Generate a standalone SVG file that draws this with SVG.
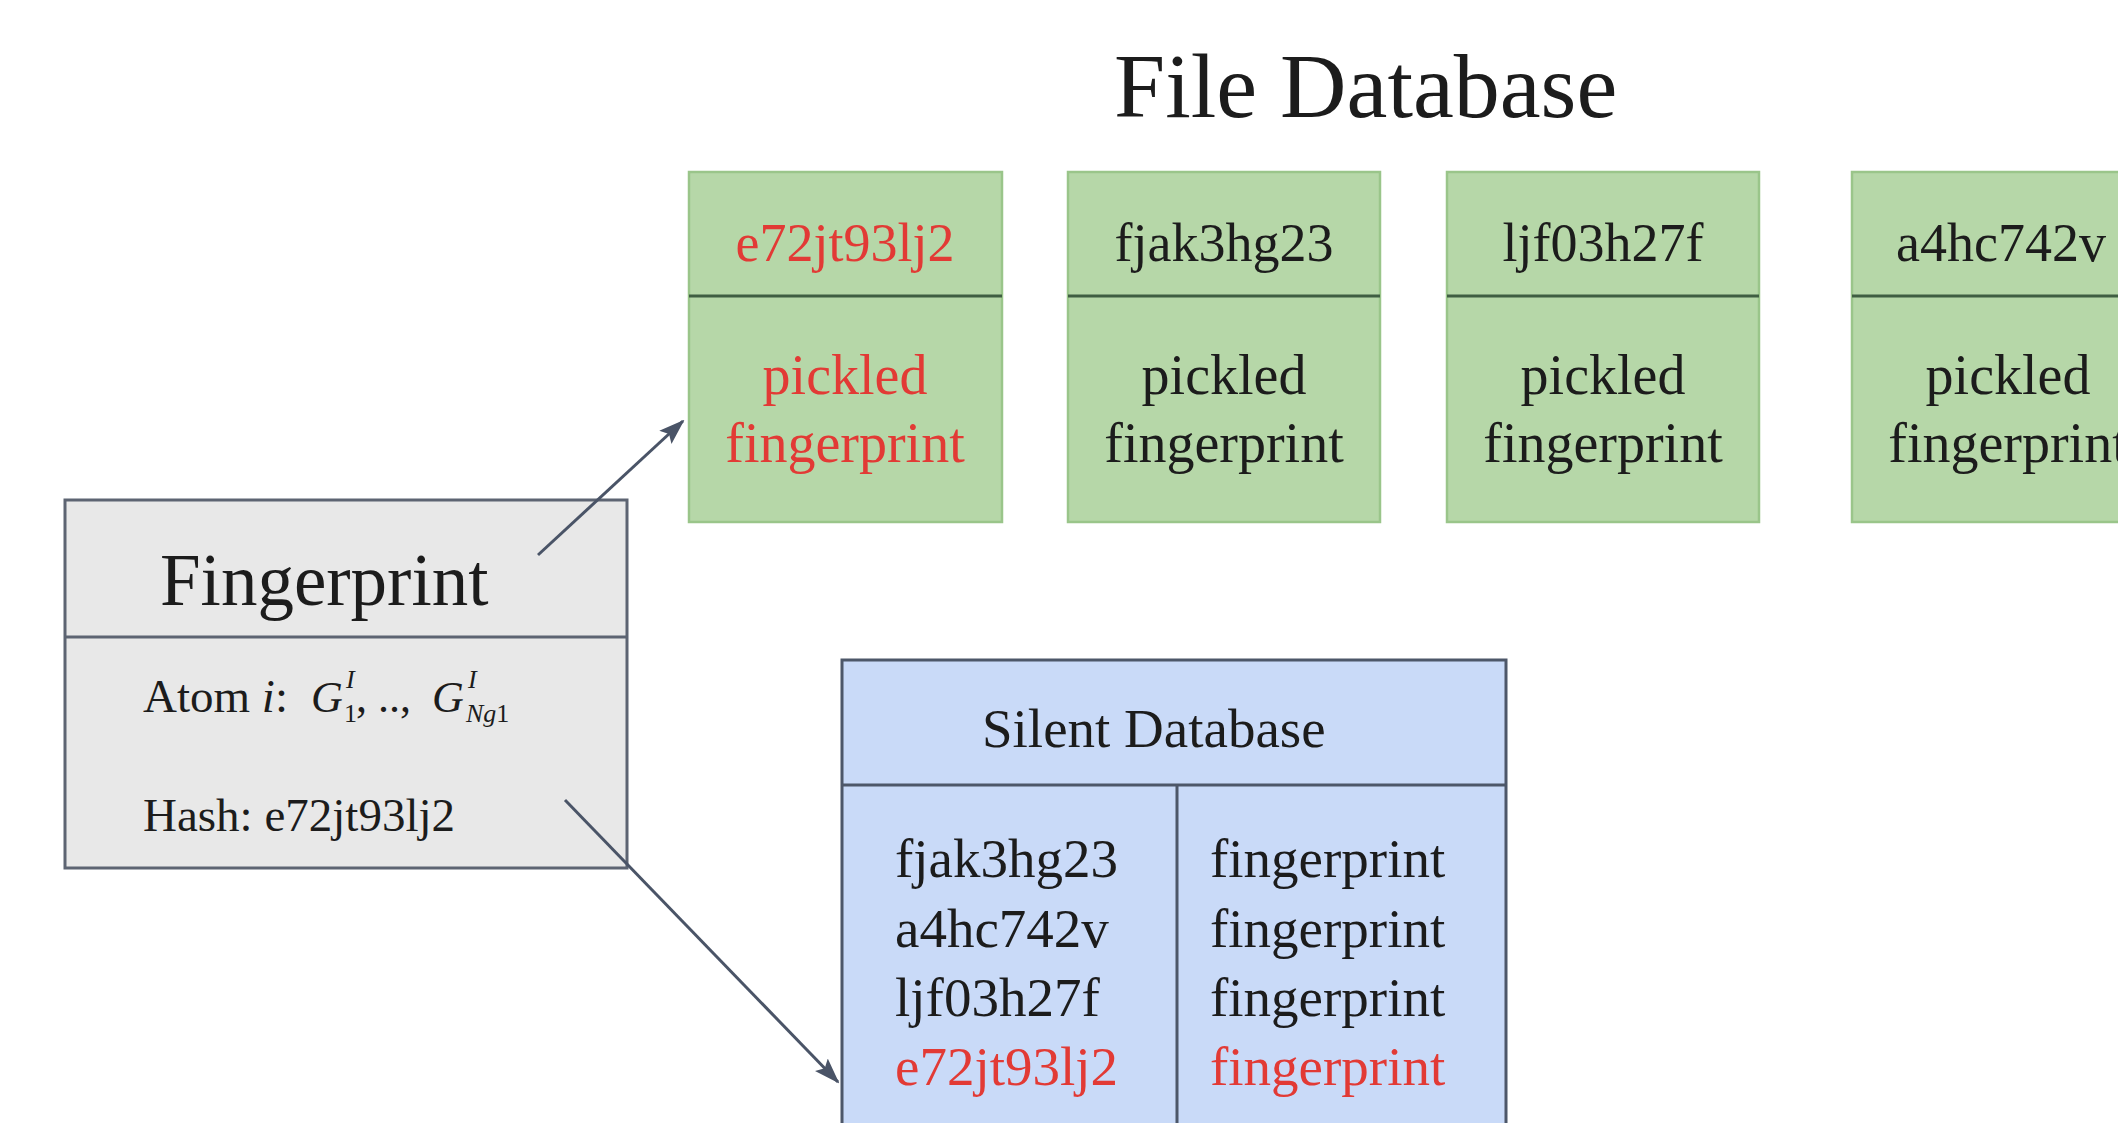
<svg xmlns="http://www.w3.org/2000/svg" width="2118" height="1123" viewBox="0 0 2118 1123">
<defs>
<style>
text{font-family:"Liberation Serif","DejaVu Serif",serif;fill:#1c1c1c}
.red{fill:#e23a35}
.gbox{fill:#b6d7a8;stroke:#9ac58a;stroke-width:2.5}
.gdiv{stroke:#3f5e42;stroke-width:3}
.hdr{font-size:54px;text-anchor:middle}
.body{font-size:56px;text-anchor:middle}
.row{font-size:55px}
.conn{stroke:#4a5467;stroke-width:3;fill:none}
.it{font-style:italic}
</style>
<marker id="ah" viewBox="0 0 26 18" refX="24" refY="9" markerWidth="26" markerHeight="18" markerUnits="userSpaceOnUse" orient="auto">
<path d="M0,0 L26,9 L0,18 L5,9 z" fill="#4a5467"/>
</marker>
</defs>
<rect width="2118" height="1123" fill="#ffffff"/>

<g id="title">
<text x="1114" y="117" font-size="92">File Database</text>
</g>

<g id="file-e72jt93lj2">
<rect class="gbox" x="689" y="172" width="313" height="350"/>
<line class="gdiv" x1="689" y1="296" x2="1002" y2="296"/>
<text class="hdr red" x="845" y="261">e72jt93lj2</text>
<text class="body red" x="845" y="394">pickled</text>
<text class="body red" x="845" y="462">fingerprint</text>
</g>

<g id="file-fjak3hg23">
<rect class="gbox" x="1068" y="172" width="312" height="350"/>
<line class="gdiv" x1="1068" y1="296" x2="1380" y2="296"/>
<text class="hdr" x="1224" y="261">fjak3hg23</text>
<text class="body" x="1224" y="394">pickled</text>
<text class="body" x="1224" y="462">fingerprint</text>
</g>

<g id="file-ljf03h27f">
<rect class="gbox" x="1447" y="172" width="312" height="350"/>
<line class="gdiv" x1="1447" y1="296" x2="1759" y2="296"/>
<text class="hdr" x="1603" y="261">ljf03h27f</text>
<text class="body" x="1603" y="394">pickled</text>
<text class="body" x="1603" y="462">fingerprint</text>
</g>

<g id="file-a4hc742v">
<rect class="gbox" x="1852" y="172" width="313" height="350"/>
<line class="gdiv" x1="1852" y1="296" x2="2165" y2="296"/>
<text class="hdr" x="2001" y="261">a4hc742v</text>
<text class="body" x="2008" y="394">pickled</text>
<text class="body" x="2008" y="462">fingerprint</text>
</g>

<g id="fingerprint">
<rect x="65" y="500" width="562" height="368" fill="#e8e8e8" stroke="#5d6472" stroke-width="3"/>
<line x1="65" y1="637" x2="627" y2="637" stroke="#5d6472" stroke-width="3"/>
<text x="160" y="605" font-size="73">Fingerprint</text>
<text x="143" y="712" font-size="47">Atom <tspan class="it">i</tspan>:</text>
<text class="it" x="311" y="712" font-size="44">G</text>
<text class="it" x="346" y="688" font-size="26">I</text>
<text x="344" y="722" font-size="26">1</text>
<text x="356" y="712" font-size="44">, .., </text>
<text class="it" x="432" y="712" font-size="44">G</text>
<text class="it" x="468" y="688" font-size="26">I</text>
<text x="466" y="722" font-size="26"><tspan class="it">Ng</tspan>1</text>
<text x="143" y="831" font-size="47">Hash: e72jt93lj2</text>
</g>

<g id="silent-database">
<rect x="842" y="660" width="664" height="480" fill="#c9daf8" stroke="#4d5769" stroke-width="3"/>
<line x1="842" y1="785" x2="1506" y2="785" stroke="#4d5769" stroke-width="3"/>
<line x1="1177" y1="785" x2="1177" y2="1140" stroke="#4d5769" stroke-width="3"/>
<text x="982" y="747" font-size="55">Silent Database</text>
<text class="row" x="895" y="877">fjak3hg23</text>
<text class="row" x="895" y="947">a4hc742v</text>
<text class="row" x="895" y="1016">ljf03h27f</text>
<text class="row red" x="895" y="1085">e72jt93lj2</text>
<text class="row" x="1210" y="877">fingerprint</text>
<text class="row" x="1210" y="947">fingerprint</text>
<text class="row" x="1210" y="1016">fingerprint</text>
<text class="row red" x="1210" y="1085">fingerprint</text>
</g>

<g id="connectors">
<line class="conn" x1="538" y1="555" x2="683" y2="421" marker-end="url(#ah)"/>
<line class="conn" x1="565" y1="800" x2="838" y2="1082" marker-end="url(#ah)"/>
</g>
</svg>
